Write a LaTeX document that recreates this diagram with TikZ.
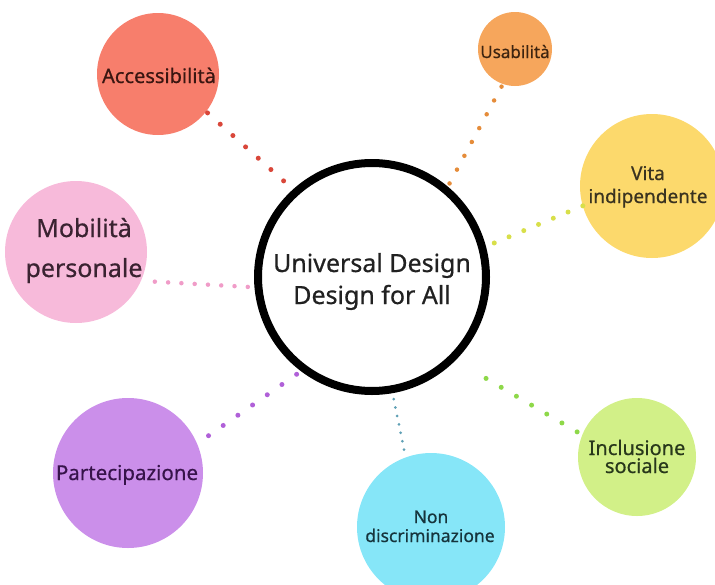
\documentclass[tikz,border=0pt]{standalone}
\usepackage{fontspec}
\setmainfont{Noto Sans}[FakeBold=0.6]
\definecolor{accF}{HTML}{F77E6C}
\definecolor{accD}{HTML}{D9473A}
\definecolor{accT}{HTML}{3A1611}
\definecolor{usaF}{HTML}{F6A65C}
\definecolor{usaD}{HTML}{E58C3A}
\definecolor{usaT}{HTML}{3D2410}
\definecolor{vitF}{HTML}{FCD96C}
\definecolor{vitD}{HTML}{D8DF4A}
\definecolor{vitT}{HTML}{3A3320}
\definecolor{mobF}{HTML}{F7BADA}
\definecolor{mobD}{HTML}{F09CC8}
\definecolor{mobT}{HTML}{3A2331}
\definecolor{parF}{HTML}{CB8FEA}
\definecolor{parD}{HTML}{B060D8}
\definecolor{parT}{HTML}{36134A}
\definecolor{nonF}{HTML}{86E6F8}
\definecolor{nonD}{HTML}{5FA0B5}
\definecolor{nonT}{HTML}{16343C}
\definecolor{incF}{HTML}{D2F088}
\definecolor{incD}{HTML}{8ED849}
\definecolor{incT}{HTML}{28381B}
\begin{document}
\begin{tikzpicture}[x=1pt,y=-1pt,
  bub/.style={circle, fill=#1, draw=none, inner sep=0pt, outer sep=0pt},
  lab/.style={anchor=base, inner sep=0pt, text=#1},
  dotline/.style n args={3}{draw=#1, line width=#2, line cap=round, dash pattern=on 0pt off #3},
]
\useasboundingbox (0,0) rectangle (715,584);

% bubbles
\node[bub=accF, minimum size=122pt] (acc) at (158,74) {};
\node[bub=usaF, minimum size=74pt] (usa) at (515,49) {};
\node[bub=vitF, minimum size=144pt] (vit) at (652,186) {};
\node[bub=mobF, minimum size=142pt] (mob) at (76,252) {};
\node[bub=parF, minimum size=150pt] (par) at (128,473) {};
\node[bub=nonF, minimum size=148pt] (non) at (431,527) {};
\node[bub=incF, minimum size=118pt] (inc) at (637,457) {};
\node[circle, draw=black, fill=white, line width=8pt, minimum size=228pt, inner sep=0pt, outer sep=4pt] (c) at (372,277) {};

% labels
\node[lab=black!87, font=\fontsize{25}{32}\selectfont] (c1) at (372,272) {Universal Design};
\node[lab=black!87, font=\fontsize{25}{32}\selectfont] (c2) at (372,304) {Design for All};
\node[lab=accT, font=\fontsize{20}{24}\selectfont] (accl) at (159,83) {Accessibilità};
\node[lab=usaT, font=\fontsize{17}{20}\selectfont] (usal) at (515,58) {Usabilità};
\node[lab=vitT, font=\fontsize{19}{23}\selectfont] (vitl1) at (648,180) {Vita};
\node[lab=vitT, font=\fontsize{19}{23}\selectfont] (vitl2) at (648,203) {indipendente};
\node[lab=mobT, font=\fontsize{25}{30}\selectfont] (mobl1) at (84,237) {Mobilità};
\node[lab=mobT, font=\fontsize{25}{30}\selectfont] (mobl2) at (84,277) {personale};
\node[lab=parT, font=\fontsize{20.5}{24}\selectfont] (parl) at (127,480) {Partecipazione};
\node[lab=nonT, font=\fontsize{17.5}{20}\selectfont] (nonl1) at (431,523) {Non};
\node[lab=nonT, font=\fontsize{17.5}{20}\selectfont] (nonl2) at (430,542) {discriminazione};
\node[lab=incT, font=\fontsize{20}{22}\selectfont] (incl1) at (637,455) {Inclusione};
\node[lab=incT, font=\fontsize{20}{22}\selectfont] (incl2) at (637,473) {sociale};

% dotted connectors
\draw[dotline={accD}{5pt}{17pt}, shorten <=2pt, shorten >=11pt] (acc.-38) -- (c.132.5);
\draw[dotline={usaD}{4.5pt}{15.7pt}, shorten <=3pt] (usa.-109) -- (c.50.7);
\draw[dotline={vitD}{5pt}{16pt}, shorten >=6pt] (vit.-164.6) -- (c.15);
\draw[dotline={mobD}{4.5pt}{13.3pt}, shorten <=14pt, shorten >=6pt] (mob.-24) -- (c.-175);
\draw[dotline={parD}{5pt}{17.9pt}, shorten <=14pt, shorten >=5pt] (par.23) -- (c.-127.4);
\draw[dotline={nonD}{3pt}{8.6pt}, shorten <=8pt, shorten >=4.5pt] (non.110.6) -- (c.-80.6);
\draw[dotline={incD}{5pt}{17.6pt}, shorten <=6pt, shorten >=18pt] (inc.158) -- (c.-45);
\end{tikzpicture}
\end{document}
